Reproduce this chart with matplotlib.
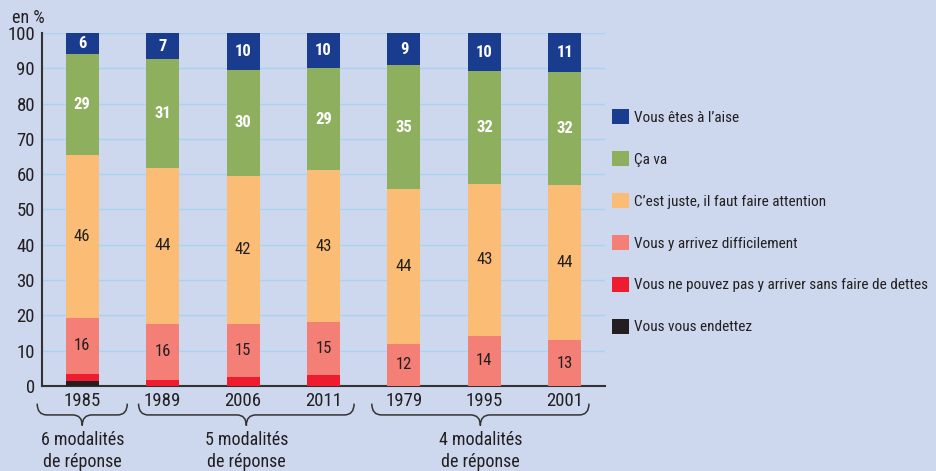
import matplotlib
matplotlib.use('Agg')
import matplotlib.pyplot as plt
from matplotlib.patches import Patch, PathPatch
from matplotlib.path import Path

# data (percent)
years = ['1985', '1989', '2006', '2011', '1979', '1995', '2001']
endettez = [1.4, 0, 0, 0, 0, 0, 0]
dettes = [2.0, 1.7, 2.5, 3.1, 0, 0, 0]
difficilement = [15.9, 15.9, 15.1, 15.0, 11.9, 14.2, 13.0]
juste = [46.1, 44.2, 42.0, 43.0, 43.8, 43.0, 44.0]
ca_va = [28.6, 30.8, 29.9, 29.0, 35.1, 32.0, 32.0]
aise = [6.0, 7.4, 10.5, 9.9, 9.2, 10.8, 11.0]

# printed labels
difficilement_lbl = [16, 16, 15, 15, 12, 14, 13]
juste_lbl = [46, 44, 42, 43, 44, 43, 44]
ca_va_lbl = [29, 31, 30, 29, 35, 32, 32]
aise_lbl = [6, 7, 10, 10, 9, 10, 11]

series_names = ['Vous vous endettez',
                'Vous ne pouvez pas y arriver sans faire de dettes',
                'Vous y arrivez difficilement',
                'C\u2019est juste, il faut faire attention',
                '\u00c7a va',
                'Vous \u00eates \u00e0 l\u2019aise']
colors = ['#231F20', '#EE1C2E', '#F37F76', '#FBBD75', '#8DAF5E', '#1A3C8F']

groups = ['6 modalit\u00e9s\nde r\u00e9ponse', '5 modalit\u00e9s\nde r\u00e9ponse',
          '4 modalit\u00e9s\nde r\u00e9ponse']
group_spans = [(-0.56, 0.56), (0.70, 3.38), (3.60, 6.30)]

BG = '#CDD8EE'
TXT = '#231F20'

plt.rcParams['font.family'] = ['Roboto Condensed', 'DejaVu Sans']


def draw_brace(ax, x0, x1, tip, ytop=-0.05, ymid=-0.082, ybot=-0.112, d=0.12):
    verts = [(x0, ytop), (x0, ymid), (x0 + d, ymid),
             (tip - d, ymid),
             (tip, ymid), (tip, ybot),
             (tip, ymid), (tip + d, ymid),
             (x1 - d, ymid),
             (x1, ymid), (x1, ytop)]
    codes = [Path.MOVETO, Path.CURVE3, Path.CURVE3,
             Path.LINETO,
             Path.CURVE3, Path.CURVE3,
             Path.CURVE3, Path.CURVE3,
             Path.LINETO,
             Path.CURVE3, Path.CURVE3]
    patch = PathPatch(Path(verts, codes), fill=False, edgecolor='#333333',
                      lw=1.1, transform=ax.get_xaxis_transform(), clip_on=False)
    ax.add_patch(patch)


fig = plt.figure(figsize=(9.36, 4.71), dpi=100)
fig.patch.set_facecolor(BG)
ax = fig.add_axes([0.0449, 0.1805, 0.6015, 0.7495])
ax.set_facecolor(BG)

x = list(range(len(years)))
stack = [endettez, dettes, difficilement, juste, ca_va, aise]
bottom = [0.0] * len(years)
for vals, col in zip(stack, colors):
    ax.bar(x, vals, width=0.41, bottom=bottom, color=col, zorder=3)
    bottom = [b + v for b, v in zip(bottom, vals)]


# value labels
def put_labels(lower_sums, vals, lbls, color, weight):
    for i in x:
        yc = lower_sums[i] + vals[i] / 2
        ax.text(i, yc, str(lbls[i]), ha='center', va='center', color=color,
                fontsize=12, fontweight=weight, zorder=4)


base_diff = [a + b for a, b in zip(endettez, dettes)]
base_juste = [a + b for a, b in zip(base_diff, difficilement)]
base_cava = [a + b for a, b in zip(base_juste, juste)]
base_aise = [a + b for a, b in zip(base_cava, ca_va)]
put_labels(base_diff, difficilement, difficilement_lbl, TXT, 'normal')
put_labels(base_juste, juste, juste_lbl, TXT, 'normal')
put_labels(base_cava, ca_va, ca_va_lbl, 'white', 'bold')
put_labels(base_aise, aise, aise_lbl, 'white', 'bold')

ax.set_ylim(0, 100)
ax.set_xlim(-0.5, 6.5)
ax.set_yticks(range(0, 101, 10))
ax.yaxis.grid(True, color='#A9D3F0', lw=1, zorder=0)
ax.set_axisbelow(True)
ax.tick_params(axis='y', length=0, pad=5, labelsize=13.5, labelcolor=TXT)
ax.set_xticks(x)
ax.set_xticklabels(years)
ax.tick_params(axis='x', length=0, pad=4, labelsize=13.5, labelcolor=TXT)
for s in ['top', 'right']:
    ax.spines[s].set_visible(False)
ax.spines['left'].set_color('#333333')
ax.spines['left'].set_linewidth(1.5)
ax.spines['bottom'].set_color('#333333')
ax.spines['bottom'].set_linewidth(1.5)

# braces and group labels
for (x0, x1), txt in zip(group_spans, groups):
    tip = (x0 + x1) / 2
    draw_brace(ax, x0, x1, tip)
    ax.text(tip, -0.128, txt, transform=ax.get_xaxis_transform(), ha='center',
            va='top', fontsize=13, color=TXT, linespacing=1.3)

fig.text(12 / 936, 1 - 18 / 471, 'en %', fontsize=13, color=TXT, va='center')

handles = [Patch(facecolor=c, edgecolor='none') for c in colors][::-1]
leg = fig.legend(handles, series_names[::-1], loc='upper left',
                 bbox_to_anchor=(606 / 936, 1 - 103 / 471), frameon=False,
                 fontsize=11, handlelength=1.1, handleheight=1.1,
                 handletextpad=0.35, labelspacing=1.73, borderaxespad=0)
for t in leg.get_texts():
    t.set_color(TXT)

fig.savefig('out.png', dpi=100, facecolor=BG)
